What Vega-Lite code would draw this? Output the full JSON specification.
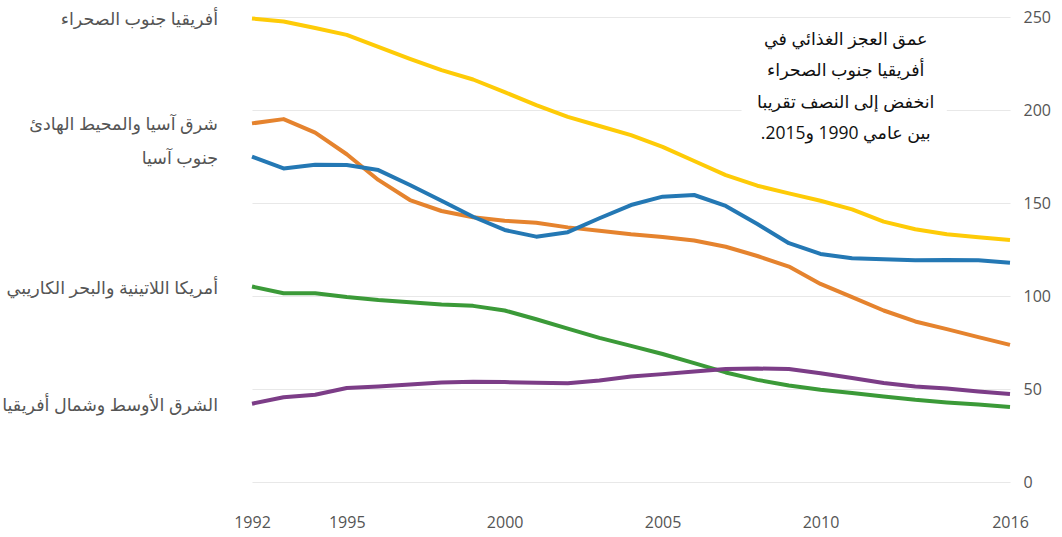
{
  "$schema": "https://vega.github.io/schema/vega-lite/v6.json",
  "width": 758,
  "height": 465,
  "autosize": "none",
  "padding": {"left": 252, "top": 17, "right": 52, "bottom": 55},
  "background": "white",
  "config": {
    "view": {"stroke": null},
    "font": "Open Sans, DejaVu Sans, sans-serif"
  },
  "datasets": {
    "series": [
      {"year": 1992, "region": "أفريقيا جنوب الصحراء", "value": 249.2},
      {"year": 1993, "region": "أفريقيا جنوب الصحراء", "value": 247.6},
      {"year": 1994, "region": "أفريقيا جنوب الصحراء", "value": 244.1},
      {"year": 1995, "region": "أفريقيا جنوب الصحراء", "value": 240.4},
      {"year": 1996, "region": "أفريقيا جنوب الصحراء", "value": 234.0},
      {"year": 1997, "region": "أفريقيا جنوب الصحراء", "value": 227.5},
      {"year": 1998, "region": "أفريقيا جنوب الصحراء", "value": 221.4},
      {"year": 1999, "region": "أفريقيا جنوب الصحراء", "value": 216.4},
      {"year": 2000, "region": "أفريقيا جنوب الصحراء", "value": 209.6},
      {"year": 2001, "region": "أفريقيا جنوب الصحراء", "value": 202.6},
      {"year": 2002, "region": "أفريقيا جنوب الصحراء", "value": 196.3},
      {"year": 2003, "region": "أفريقيا جنوب الصحراء", "value": 191.4},
      {"year": 2004, "region": "أفريقيا جنوب الصحراء", "value": 186.5},
      {"year": 2005, "region": "أفريقيا جنوب الصحراء", "value": 180.2},
      {"year": 2006, "region": "أفريقيا جنوب الصحراء", "value": 172.6},
      {"year": 2007, "region": "أفريقيا جنوب الصحراء", "value": 165.0},
      {"year": 2008, "region": "أفريقيا جنوب الصحراء", "value": 159.3},
      {"year": 2009, "region": "أفريقيا جنوب الصحراء", "value": 155.2},
      {"year": 2010, "region": "أفريقيا جنوب الصحراء", "value": 151.2},
      {"year": 2011, "region": "أفريقيا جنوب الصحراء", "value": 146.6},
      {"year": 2012, "region": "أفريقيا جنوب الصحراء", "value": 140.0},
      {"year": 2013, "region": "أفريقيا جنوب الصحراء", "value": 135.9},
      {"year": 2014, "region": "أفريقيا جنوب الصحراء", "value": 133.2},
      {"year": 2015, "region": "أفريقيا جنوب الصحراء", "value": 131.6},
      {"year": 2016, "region": "أفريقيا جنوب الصحراء", "value": 130.1},

      {"year": 1992, "region": "شرق آسيا والمحيط الهادئ", "value": 192.8},
      {"year": 1993, "region": "شرق آسيا والمحيط الهادئ", "value": 195.1},
      {"year": 1994, "region": "شرق آسيا والمحيط الهادئ", "value": 187.8},
      {"year": 1995, "region": "شرق آسيا والمحيط الهادئ", "value": 176.2},
      {"year": 1996, "region": "شرق آسيا والمحيط الهادئ", "value": 162.4},
      {"year": 1997, "region": "شرق آسيا والمحيط الهادئ", "value": 151.6},
      {"year": 1998, "region": "شرق آسيا والمحيط الهادئ", "value": 145.7},
      {"year": 1999, "region": "شرق آسيا والمحيط الهادئ", "value": 142.3},
      {"year": 2000, "region": "شرق آسيا والمحيط الهادئ", "value": 140.5},
      {"year": 2001, "region": "شرق آسيا والمحيط الهادئ", "value": 139.4},
      {"year": 2002, "region": "شرق آسيا والمحيط الهادئ", "value": 136.9},
      {"year": 2003, "region": "شرق آسيا والمحيط الهادئ", "value": 135.1},
      {"year": 2004, "region": "شرق آسيا والمحيط الهادئ", "value": 133.2},
      {"year": 2005, "region": "شرق آسيا والمحيط الهادئ", "value": 131.7},
      {"year": 2006, "region": "شرق آسيا والمحيط الهادئ", "value": 129.8},
      {"year": 2007, "region": "شرق آسيا والمحيط الهادئ", "value": 126.5},
      {"year": 2008, "region": "شرق آسيا والمحيط الهادئ", "value": 121.5},
      {"year": 2009, "region": "شرق آسيا والمحيط الهادئ", "value": 115.8},
      {"year": 2010, "region": "شرق آسيا والمحيط الهادئ", "value": 106.5},
      {"year": 2011, "region": "شرق آسيا والمحيط الهادئ", "value": 99.4},
      {"year": 2012, "region": "شرق آسيا والمحيط الهادئ", "value": 92.2},
      {"year": 2013, "region": "شرق آسيا والمحيط الهادئ", "value": 86.3},
      {"year": 2014, "region": "شرق آسيا والمحيط الهادئ", "value": 82.2},
      {"year": 2015, "region": "شرق آسيا والمحيط الهادئ", "value": 77.9},
      {"year": 2016, "region": "شرق آسيا والمحيط الهادئ", "value": 73.7},

      {"year": 1992, "region": "جنوب آسيا", "value": 174.9},
      {"year": 1993, "region": "جنوب آسيا", "value": 168.6},
      {"year": 1994, "region": "جنوب آسيا", "value": 170.6},
      {"year": 1995, "region": "جنوب آسيا", "value": 170.4},
      {"year": 1996, "region": "جنوب آسيا", "value": 167.7},
      {"year": 1997, "region": "جنوب آسيا", "value": 159.7},
      {"year": 1998, "region": "جنوب آسيا", "value": 151.2},
      {"year": 1999, "region": "جنوب آسيا", "value": 142.6},
      {"year": 2000, "region": "جنوب آسيا", "value": 135.5},
      {"year": 2001, "region": "جنوب آسيا", "value": 131.9},
      {"year": 2002, "region": "جنوب آسيا", "value": 134.3},
      {"year": 2003, "region": "جنوب آسيا", "value": 141.8},
      {"year": 2004, "region": "جنوب آسيا", "value": 148.9},
      {"year": 2005, "region": "جنوب آسيا", "value": 153.4},
      {"year": 2006, "region": "جنوب آسيا", "value": 154.3},
      {"year": 2007, "region": "جنوب آسيا", "value": 148.4},
      {"year": 2008, "region": "جنوب آسيا", "value": 138.7},
      {"year": 2009, "region": "جنوب آسيا", "value": 128.4},
      {"year": 2010, "region": "جنوب آسيا", "value": 122.6},
      {"year": 2011, "region": "جنوب آسيا", "value": 120.3},
      {"year": 2012, "region": "جنوب آسيا", "value": 119.8},
      {"year": 2013, "region": "جنوب آسيا", "value": 119.2},
      {"year": 2014, "region": "جنوب آسيا", "value": 119.4},
      {"year": 2015, "region": "جنوب آسيا", "value": 119.2},
      {"year": 2016, "region": "جنوب آسيا", "value": 117.9},

      {"year": 1992, "region": "أمريكا اللاتينية والبحر الكاريبي", "value": 105.1},
      {"year": 1993, "region": "أمريكا اللاتينية والبحر الكاريبي", "value": 101.5},
      {"year": 1994, "region": "أمريكا اللاتينية والبحر الكاريبي", "value": 101.5},
      {"year": 1995, "region": "أمريكا اللاتينية والبحر الكاريبي", "value": 99.5},
      {"year": 1996, "region": "أمريكا اللاتينية والبحر الكاريبي", "value": 97.9},
      {"year": 1997, "region": "أمريكا اللاتينية والبحر الكاريبي", "value": 96.7},
      {"year": 1998, "region": "أمريكا اللاتينية والبحر الكاريبي", "value": 95.4},
      {"year": 1999, "region": "أمريكا اللاتينية والبحر الكاريبي", "value": 94.7},
      {"year": 2000, "region": "أمريكا اللاتينية والبحر الكاريبي", "value": 92.2},
      {"year": 2001, "region": "أمريكا اللاتينية والبحر الكاريبي", "value": 87.5},
      {"year": 2002, "region": "أمريكا اللاتينية والبحر الكاريبي", "value": 82.5},
      {"year": 2003, "region": "أمريكا اللاتينية والبحر الكاريبي", "value": 77.5},
      {"year": 2004, "region": "أمريكا اللاتينية والبحر الكاريبي", "value": 73.2},
      {"year": 2005, "region": "أمريكا اللاتينية والبحر الكاريبي", "value": 68.8},
      {"year": 2006, "region": "أمريكا اللاتينية والبحر الكاريبي", "value": 63.9},
      {"year": 2007, "region": "أمريكا اللاتينية والبحر الكاريبي", "value": 58.9},
      {"year": 2008, "region": "أمريكا اللاتينية والبحر الكاريبي", "value": 54.9},
      {"year": 2009, "region": "أمريكا اللاتينية والبحر الكاريبي", "value": 51.9},
      {"year": 2010, "region": "أمريكا اللاتينية والبحر الكاريبي", "value": 49.6},
      {"year": 2011, "region": "أمريكا اللاتينية والبحر الكاريبي", "value": 47.8},
      {"year": 2012, "region": "أمريكا اللاتينية والبحر الكاريبي", "value": 46.0},
      {"year": 2013, "region": "أمريكا اللاتينية والبحر الكاريبي", "value": 44.2},
      {"year": 2014, "region": "أمريكا اللاتينية والبحر الكاريبي", "value": 42.8},
      {"year": 2015, "region": "أمريكا اللاتينية والبحر الكاريبي", "value": 41.7},
      {"year": 2016, "region": "أمريكا اللاتينية والبحر الكاريبي", "value": 40.3},

      {"year": 1992, "region": "الشرق الأوسط وشمال أفريقيا", "value": 42.1},
      {"year": 1993, "region": "الشرق الأوسط وشمال أفريقيا", "value": 45.6},
      {"year": 1994, "region": "الشرق الأوسط وشمال أفريقيا", "value": 46.9},
      {"year": 1995, "region": "الشرق الأوسط وشمال أفريقيا", "value": 50.5},
      {"year": 1996, "region": "الشرق الأوسط وشمال أفريقيا", "value": 51.3},
      {"year": 1997, "region": "الشرق الأوسط وشمال أفريقيا", "value": 52.4},
      {"year": 1998, "region": "الشرق الأوسط وشمال أفريقيا", "value": 53.5},
      {"year": 1999, "region": "الشرق الأوسط وشمال أفريقيا", "value": 53.9},
      {"year": 2000, "region": "الشرق الأوسط وشمال أفريقيا", "value": 53.7},
      {"year": 2001, "region": "الشرق الأوسط وشمال أفريقيا", "value": 53.3},
      {"year": 2002, "region": "الشرق الأوسط وشمال أفريقيا", "value": 53.1},
      {"year": 2003, "region": "الشرق الأوسط وشمال أفريقيا", "value": 54.6},
      {"year": 2004, "region": "الشرق الأوسط وشمال أفريقيا", "value": 56.7},
      {"year": 2005, "region": "الشرق الأوسط وشمال أفريقيا", "value": 58.0},
      {"year": 2006, "region": "الشرق الأوسط وشمال أفريقيا", "value": 59.4},
      {"year": 2007, "region": "الشرق الأوسط وشمال أفريقيا", "value": 60.7},
      {"year": 2008, "region": "الشرق الأوسط وشمال أفريقيا", "value": 61.0},
      {"year": 2009, "region": "الشرق الأوسط وشمال أفريقيا", "value": 60.7},
      {"year": 2010, "region": "الشرق الأوسط وشمال أفريقيا", "value": 58.5},
      {"year": 2011, "region": "الشرق الأوسط وشمال أفريقيا", "value": 55.9},
      {"year": 2012, "region": "الشرق الأوسط وشمال أفريقيا", "value": 53.2},
      {"year": 2013, "region": "الشرق الأوسط وشمال أفريقيا", "value": 51.3},
      {"year": 2014, "region": "الشرق الأوسط وشمال أفريقيا", "value": 50.3},
      {"year": 2015, "region": "الشرق الأوسط وشمال أفريقيا", "value": 48.7},
      {"year": 2016, "region": "الشرق الأوسط وشمال أفريقيا", "value": 47.3}
    ]
  },
  "layer": [
    {
      "data": {"values": [{"box": "annotation"}]},
      "mark": {"type": "rect", "color": "white"},
      "encoding": {
        "x": {"datum": 2007.5, "type": "quantitative"},
        "x2": {"datum": 2014.0},
        "y": {"datum": 242, "type": "quantitative"},
        "y2": {"datum": 178}
      }
    },
    {
      "data": {"name": "series"},
      "mark": {"type": "line", "strokeWidth": 4, "strokeJoin": "round", "strokeCap": "butt", "clip": false},
      "encoding": {
        "x": {
          "field": "year", "type": "quantitative",
          "scale": {"domain": [1992, 2016], "nice": false, "zero": false},
          "axis": {
            "title": null, "values": [1992, 1995, 2000, 2005, 2010, 2016], "format": "d",
            "domain": false, "ticks": false, "grid": false,
            "labelPadding": 32, "labelFontSize": 16, "labelColor": "#555555",
            "labelFlush": false
          }
        },
        "y": {
          "field": "value", "type": "quantitative",
          "scale": {"domain": [0, 250], "nice": false},
          "axis": {
            "title": null, "orient": "right", "values": [0, 50, 100, 150, 200, 250],
            "domain": false, "ticks": false, "grid": true, "gridColor": "#e8e8e8", "gridWidth": 1.2,
            "labelPadding": 13, "labelFontSize": 16, "labelColor": "#555555"
          }
        },
        "color": {
          "field": "region", "type": "nominal", "legend": null,
          "scale": {
            "domain": ["أفريقيا جنوب الصحراء", "شرق آسيا والمحيط الهادئ", "جنوب آسيا", "أمريكا اللاتينية والبحر الكاريبي", "الشرق الأوسط وشمال أفريقيا"],
            "range": ["#fecb07", "#e5832e", "#2478b4", "#3b9a38", "#7c3d87"]
          }
        }
      }
    },
    {
      "data": {"name": "series"},
      "transform": [{"filter": "datum.year == 1992"}],
      "mark": {"type": "text", "align": "right", "baseline": "middle", "dx": -34, "dy": 2, "fontSize": 17.5, "color": "#555555"},
      "encoding": {
        "x": {"field": "year", "type": "quantitative"},
        "y": {"field": "value", "type": "quantitative"},
        "text": {"field": "region"}
      }
    },
    {
      "data": {"values": [{"note": "annotation"}]},
      "mark": {
        "type": "text", "align": "center", "baseline": "top", "fontSize": 17.5, "lineHeight": 31.5, "color": "#111111",
        "text": ["عمق العجز الغذائي في", "أفريقيا جنوب الصحراء", "انخفض إلى النصف تقريبا", "بين عامي 1990 و2015.‏"]
      },
      "encoding": {
        "x": {"datum": 2010.8, "type": "quantitative"},
        "y": {"datum": 242.5, "type": "quantitative"}
      }
    }
  ]
}
